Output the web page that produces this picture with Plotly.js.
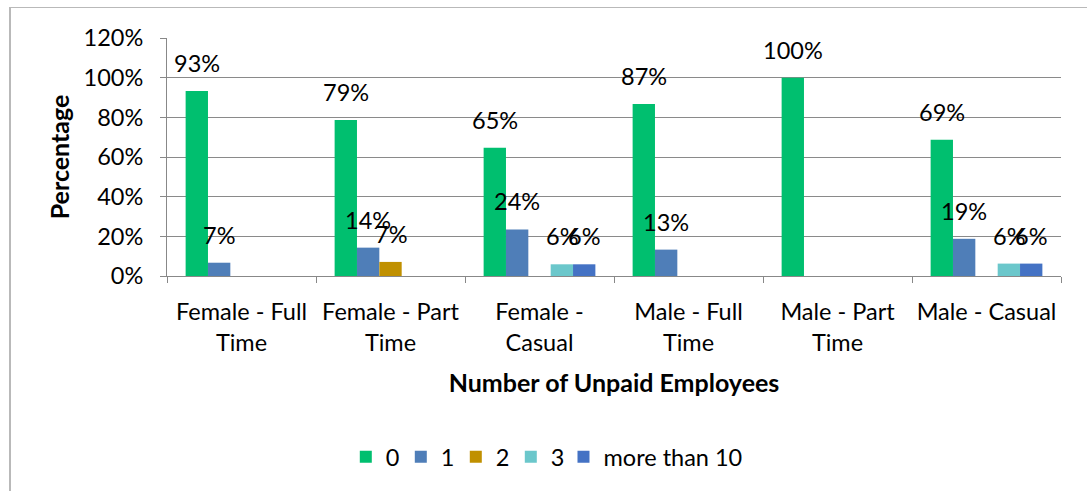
<!DOCTYPE html>
<html>
<head>
<meta charset="utf-8">
<script src="https://cdn.plot.ly/plotly-3.0.1.min.js"></script>
<style>
  html, body { margin: 0; padding: 0; background: #fff; }
  #frame { position: absolute; left: 9px; top: 7px; width: 1078px; height: 484px;
           border-left: 2px solid #b9b9b9; border-top: 1px solid #b9b9b9; }
  #chart { position: absolute; left: 0; top: 0; width: 1087px; height: 491px; }
</style>
</head>
<body>
<div id="frame"></div>
<div id="chart"></div>
<script>
const categories = ["Female - Full<br>Time", "Female - Part<br>Time", "Female -<br>Casual",
                    "Male - Full<br>Time", "Male - Part<br>Time", "Male - Casual"];
const seriesNames = ["0", "1", "2", "3", "more than 10"];
const vals0      = [93.3, 78.6, 64.7, 86.7, 100, 68.75];
const vals1      = [6.7, 14.3, 23.5, 13.3, null, 18.75];
const vals2      = [null, 7.1, null, null, null, null];
const vals3      = [null, null, 5.9, null, null, 6.25];
const valsMore10 = [null, null, 5.9, null, null, 6.25];
const colors = ["#00BF6F", "#4F7EB8", "#C09000", "#6BC7CB", "#4472C4"];

const FONT = "Lato, 'Open Sans', sans-serif";
const FS = 23.5;
const allVals = [vals0, vals1, vals2, vals3, valsMore10];
const bargap = 0.25;
const barW = (1 - bargap) / allVals.length;

const traces = allVals.map((v, j) => ({
  type: "bar",
  name: seriesNames[j],
  x: categories,
  y: v,
  marker: { color: colors[j] },
  legend: j < allVals.length - 1 ? "legend" : "legend2",
  hoverinfo: "skip"
}));

const annotations = [];
allVals.forEach((v, j) => {
  v.forEach((val, i) => {
    if (val === null) return;
    annotations.push({
      x: i + (j - (allVals.length - 1) / 2) * barW,
      y: val,
      xref: "x", yref: "y",
      text: Math.round(val) + "%",
      showarrow: false,
      yanchor: "middle",
      yshift: 28,
      font: { family: FONT, size: FS, color: "#000" }
    });
  });
});

const legendCommon = {
  orientation: "h",
  yanchor: "middle",
  y: -0.76,
  xanchor: "left",
  font: { family: FONT, size: FS },
  itemwidth: 30,
  traceorder: "normal",
  bgcolor: "rgba(0,0,0,0)"
};

const layout = {
  width: 1087, height: 491,
  margin: { l: 167, r: 26, t: 38, b: 215 },
  paper_bgcolor: "rgba(0,0,0,0)",
  plot_bgcolor: "rgba(0,0,0,0)",
  barmode: "group",
  bargap: bargap,
  bargroupgap: 0,
  font: { family: FONT, size: FS, color: "#000" },
  xaxis: {
    type: "category",
    tickson: "boundaries",
    ticks: "outside", ticklen: 6, tickcolor: "#888",
    showline: true, linecolor: "#888", linewidth: 1,
    showgrid: false,
    tickfont: { family: FONT, size: FS },
    ticklabelstandoff: 15,
    title: { text: "<b>Number of Unpaid Employees</b>", font: { family: FONT, size: 25 }, standoff: 19 },
    automargin: false
  },
  yaxis: {
    range: [0, 120],
    dtick: 20,
    ticksuffix: "%",
    ticks: "outside", ticklen: 6, tickcolor: "#888",
    showline: true, linecolor: "#888", linewidth: 1,
    showgrid: true, gridcolor: "#8a8a8a", gridwidth: 1,
    zeroline: false,
    tickfont: { family: FONT, size: FS },
    ticklabelstandoff: 12,
    title: { text: "<b>Percentage</b>", font: { family: FONT, size: 25 }, standoff: 6 },
    automargin: false
  },
  legend: Object.assign({}, legendCommon, { x: 0.2, entrywidth: 10, entrywidthmode: "pixels" }),
  legend2: Object.assign({}, legendCommon, { x: 0.4435 }),
  annotations: annotations,
  showlegend: true
};

Plotly.newPlot("chart", traces, layout, { displayModeBar: false, staticPlot: true });
</script>
</body>
</html>
